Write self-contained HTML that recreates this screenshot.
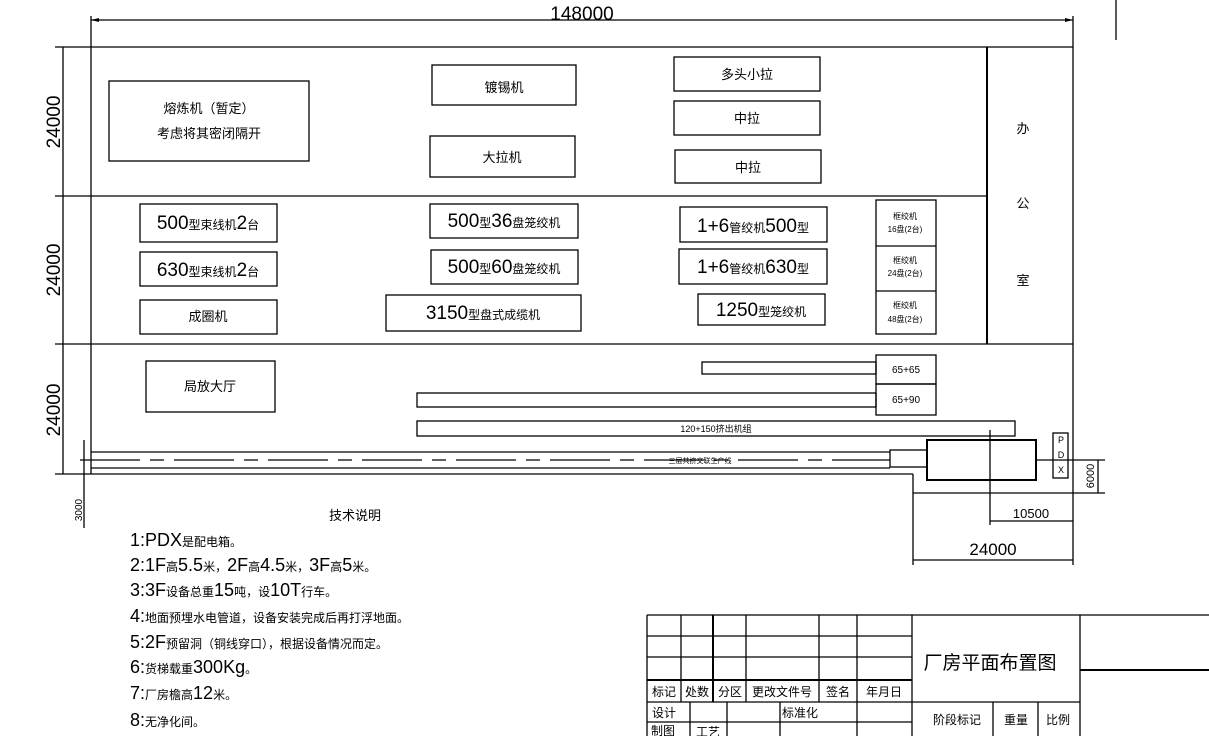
<!DOCTYPE html>
<html><head><meta charset="utf-8"><style>
html,body{margin:0;padding:0;background:#fff;width:1209px;height:736px;overflow:hidden}
svg{display:block}
text{font-family:"Liberation Sans","Noto Sans CJK SC",sans-serif;fill:#000}
</style></head><body>
<svg width="1209" height="736" viewBox="0 0 1209 736" xmlns="http://www.w3.org/2000/svg">
<g stroke="#000" stroke-width="1.3" fill="none">
<!-- top dimension -->
<line x1="91" y1="20" x2="1073" y2="20"/>
<line x1="91" y1="16" x2="91" y2="47"/>
<line x1="1073" y1="16" x2="1073" y2="47"/>
<line x1="1116" y1="0" x2="1116" y2="40"/>
<!-- outline -->
<line x1="91" y1="47" x2="1073" y2="47"/>
<line x1="91" y1="47" x2="91" y2="474"/>
<line x1="1073" y1="47" x2="1073" y2="493"/>
<line x1="987" y1="47" x2="987" y2="344" stroke-width="2"/>
<line x1="91" y1="196" x2="987" y2="196"/>
<line x1="91" y1="344" x2="1073" y2="344"/>
<line x1="91" y1="474" x2="913" y2="474"/>
<line x1="913" y1="474" x2="913" y2="493"/>
<line x1="913" y1="493" x2="1073" y2="493"/>
<!-- left dims -->
<line x1="63" y1="47" x2="63" y2="474"/>
<line x1="55" y1="47" x2="91" y2="47"/>
<line x1="55" y1="196" x2="91" y2="196"/>
<line x1="55" y1="344" x2="91" y2="344"/>
<line x1="55" y1="474" x2="91" y2="474"/>
<line x1="84" y1="440" x2="84" y2="528"/>
<!-- row 1 boxes -->
<rect x="109" y="81" width="200" height="80"/>
<rect x="432" y="65" width="144" height="40"/>
<rect x="430" y="136" width="145" height="41"/>
<rect x="674" y="57" width="146" height="34"/>
<rect x="674" y="101" width="146" height="34"/>
<rect x="675" y="150" width="146" height="33"/>
<!-- row 2 -->
<rect x="140" y="204" width="137" height="38"/>
<rect x="140" y="252" width="137" height="34"/>
<rect x="140" y="300" width="137" height="34"/>
<rect x="430" y="204" width="148" height="34"/>
<rect x="431" y="250" width="147" height="34"/>
<rect x="386" y="295" width="195" height="36"/>
<rect x="680" y="207" width="147" height="35"/>
<rect x="679" y="249" width="148" height="35"/>
<rect x="698" y="294" width="127" height="31"/>
<rect x="876" y="200" width="60" height="134"/>
<line x1="876" y1="246" x2="936" y2="246"/>
<line x1="876" y1="291" x2="936" y2="291"/>
<!-- row 3 -->
<rect x="146" y="361" width="129" height="51"/>
<rect x="702" y="362" width="174" height="12"/>
<rect x="876" y="355" width="60" height="29"/>
<rect x="417" y="393" width="459" height="14"/>
<rect x="876" y="384" width="60" height="31"/>
<rect x="417" y="421" width="598" height="15"/>
<!-- conveyor -->
<line x1="91" y1="452" x2="890" y2="452"/>
<line x1="91" y1="468" x2="890" y2="468"/>
<line x1="80" y1="460" x2="890" y2="460" stroke-dasharray="60,10,14,10"/>
<rect x="890" y="450" width="37" height="17"/>
<rect x="927" y="440" width="109" height="40" stroke-width="2"/>
<line x1="1036" y1="460" x2="1105" y2="460"/>
<rect x="1053" y="433" width="15" height="45"/>
<line x1="990" y1="430" x2="990" y2="525"/>
<!-- right dims -->
<line x1="990" y1="521" x2="1073" y2="521"/>
<line x1="1073" y1="493" x2="1073" y2="565"/>
<line x1="913" y1="493" x2="913" y2="565"/>
<line x1="913" y1="560" x2="1073" y2="560"/>
<line x1="1098" y1="460" x2="1098" y2="493"/>
<line x1="1073" y1="493" x2="1105" y2="493"/>
<!-- title block -->
<line x1="647" y1="615" x2="1209" y2="615"/>
<line x1="647" y1="615" x2="647" y2="736"/>
<line x1="681" y1="615" x2="681" y2="702"/>
<line x1="713" y1="615" x2="713" y2="702" stroke-width="2"/>
<line x1="746" y1="615" x2="746" y2="702"/>
<line x1="819" y1="615" x2="819" y2="702"/>
<line x1="857" y1="615" x2="857" y2="736"/>
<line x1="912" y1="615" x2="912" y2="736"/>
<line x1="647" y1="636" x2="912" y2="636"/>
<line x1="647" y1="657" x2="912" y2="657"/>
<line x1="647" y1="680" x2="912" y2="680" stroke-width="2"/>
<line x1="647" y1="702" x2="1080" y2="702"/>
<line x1="647" y1="722" x2="912" y2="722"/>
<line x1="690" y1="702" x2="690" y2="736"/>
<line x1="727" y1="702" x2="727" y2="736"/>
<line x1="780" y1="702" x2="780" y2="736"/>
<line x1="1080" y1="615" x2="1080" y2="736"/>
<line x1="1080" y1="670" x2="1209" y2="670" stroke-width="2"/>
<line x1="993" y1="702" x2="993" y2="736"/>
<line x1="1038" y1="702" x2="1038" y2="736"/>
</g>
<g fill="#000">
<polygon points="91,20 99,18 99,22"/><polygon points="1073,20 1065,18 1065,22"/>
</g>
<text x="582" y="20" font-size="19" text-anchor="middle">148000</text>
<g font-size="19" text-anchor="middle">
<text transform="translate(60,122) rotate(-90)">24000</text>
<text transform="translate(60,270) rotate(-90)">24000</text>
<text transform="translate(60,410) rotate(-90)">24000</text>
</g>
<text transform="translate(82,510) rotate(-90)" font-size="10" text-anchor="middle">3000</text>
<text transform="translate(1094,476) rotate(-90)" font-size="11" text-anchor="middle">6000</text>
<text x="1031" y="518" font-size="13" text-anchor="middle">10500</text>
<text x="993" y="555" font-size="17" text-anchor="middle">24000</text>
<g font-size="13" text-anchor="middle">
<text x="209" y="113">熔炼机（暂定）</text>
<text x="209" y="138">考虑将其密闭隔开</text>
<text x="504" y="92">镀锡机</text>
<text x="502" y="162">大拉机</text>
<text x="747" y="79">多头小拉</text>
<text x="747" y="123">中拉</text>
<text x="748" y="172">中拉</text>
<text x="1023" y="133">办</text>
<text x="1023" y="208">公</text>
<text x="1023" y="285">室</text>
<text x="208" y="321">成圈机</text>
<text x="210" y="391">局放大厅</text>
<text x="355" y="520">技术说明</text>
</g>
<g text-anchor="middle">
<text x="208" y="229" font-size="19">500<tspan font-size="12">型束线机</tspan>2<tspan font-size="12">台</tspan></text>
<text x="208" y="276" font-size="19">630<tspan font-size="12">型束线机</tspan>2<tspan font-size="12">台</tspan></text>
<text x="504" y="227" font-size="19">500<tspan font-size="12">型</tspan>36<tspan font-size="12">盘笼绞机</tspan></text>
<text x="504" y="273" font-size="19">500<tspan font-size="12">型</tspan>60<tspan font-size="12">盘笼绞机</tspan></text>
<text x="483" y="319" font-size="19">3150<tspan font-size="12">型盘式成缆机</tspan></text>
<text x="753" y="232" font-size="19">1+6<tspan font-size="12">管绞机</tspan>500<tspan font-size="12">型</tspan></text>
<text x="753" y="273" font-size="19">1+6<tspan font-size="12">管绞机</tspan>630<tspan font-size="12">型</tspan></text>
<text x="761" y="316" font-size="19">1250<tspan font-size="12">型笼绞机</tspan></text>
</g>
<g font-size="8" text-anchor="middle">
<text x="905" y="219">框绞机</text><text x="905" y="232">16盘(2台)</text>
<text x="905" y="263">框绞机</text><text x="905" y="276">24盘(2台)</text>
<text x="905" y="308">框绞机</text><text x="905" y="322">48盘(2台)</text>
<text x="906" y="373" font-size="10">65+65</text>
<text x="906" y="403" font-size="10">65+90</text>
<text x="716" y="432" font-size="9">120+150挤出机组</text>
<text x="700" y="463" font-size="7">三层共挤交联生产线</text>
<text x="1061" y="443" font-size="9">P</text><text x="1061" y="458" font-size="9">D</text><text x="1061" y="473" font-size="9">X</text>
</g>
<g font-size="18">
<text x="130" y="546">1:PDX<tspan font-size="12">是配电箱。</tspan></text>
<text x="130" y="571">2:1F<tspan font-size="12">高</tspan>5.5<tspan font-size="12">米，</tspan>2F<tspan font-size="12">高</tspan>4.5<tspan font-size="12">米，</tspan>3F<tspan font-size="12">高</tspan>5<tspan font-size="12">米。</tspan></text>
<text x="130" y="596">3:3F<tspan font-size="12">设备总重</tspan>15<tspan font-size="12">吨，设</tspan>10T<tspan font-size="12">行车。</tspan></text>
<text x="130" y="622">4:<tspan font-size="12">地面预埋水电管道，设备安装完成后再打浮地面。</tspan></text>
<text x="130" y="648">5:2F<tspan font-size="12">预留洞（铜线穿口），根据设备情况而定。</tspan></text>
<text x="130" y="673">6:<tspan font-size="12">货梯载重</tspan>300Kg<tspan font-size="12">。</tspan></text>
<text x="130" y="699">7:<tspan font-size="12">厂房檐高</tspan>12<tspan font-size="12">米。</tspan></text>
<text x="130" y="726">8:<tspan font-size="12">无净化间。</tspan></text>
</g>
<g font-size="12" text-anchor="middle">
<text x="664" y="696">标记</text><text x="697" y="696">处数</text><text x="730" y="696">分区</text>
<text x="782" y="696">更改文件号</text><text x="838" y="696">签名</text><text x="884" y="696">年月日</text>
<text x="664" y="717">设计</text><text x="800" y="717">标准化</text>
<text x="663" y="735">制图</text><text x="708" y="736">工艺</text>
<text x="957" y="724">阶段标记</text><text x="1016" y="724">重量</text><text x="1058" y="724">比例</text>
</g>
<text x="990" y="669" font-size="19" text-anchor="middle">厂房平面布置图</text>
</svg>
</body></html>
